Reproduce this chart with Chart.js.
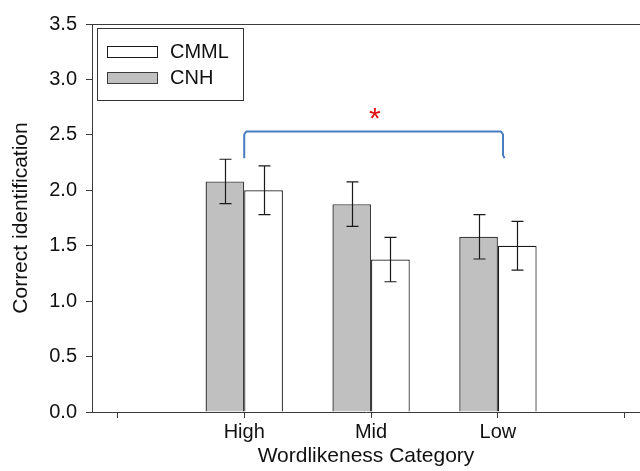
<!DOCTYPE html>
<html>
<head>
<meta charset="utf-8">
<script src="https://cdn.jsdelivr.net/npm/chart.js@4"></script>
<style>
  html, body { margin: 0; padding: 0; background: #ffffff; overflow: hidden; }
  #wrap { width: 640px; height: 471px; }
</style>
</head>
<body>
<div id="wrap"><canvas id="chart" width="640" height="471"></canvas></div>
<script>
// Correct identification by wordlikeness category
const categories = ['High', 'Mid', 'Low'];
const categoryPositions = [1, 2, 3];
const xTickPositions = [0, 1, 2, 3, 4];
const xTickLabels = ['', 'High', 'Mid', 'Low', ''];
const yTickValues = [0, 0.5, 1, 1.5, 2, 2.5, 3, 3.5];

const cnhMeans = [2.08, 1.875, 1.58];
const cnhErrors = [0.2, 0.2, 0.2];
const cmmlMeans = [2.0, 1.375, 1.5];
const cmmlErrors = [0.22, 0.2, 0.22];

// significance bracket between High and Low
const bracketX = [1.0, 3.04];
const bracketTopY = 2.53;
const bracketEndY = 2.29;
const starPosition = [2.03, 2.69];
const starText = '*';

const legendOrder = ['CMML', 'CNH'];

const AXIS = '#3a3a3a';
const FONT = 'Arial, "Liberation Sans", sans-serif';

const toPoints = (means) => means.map((v, i) => ({ x: categoryPositions[i], y: v }));

const errorBars = {
  id: 'errorBars',
  afterDatasetsDraw(chart) {
    const ctx = chart.ctx;
    const y = chart.scales.y;
    ctx.save();
    ctx.strokeStyle = '#1a1a1a';
    ctx.lineWidth = 1.2;
    chart.data.datasets.forEach((ds, di) => {
      const meta = chart.getDatasetMeta(di);
      meta.data.forEach((bar, i) => {
        const m = ds.data[i].y, e = ds.errors[i];
        const x = Math.round(bar.x) + 0.5;
        const yt = y.getPixelForValue(m + e), yb = y.getPixelForValue(m - e);
        ctx.beginPath();
        ctx.moveTo(x, yt); ctx.lineTo(x, yb);
        ctx.moveTo(x - 6, yt); ctx.lineTo(x + 6, yt);
        ctx.moveTo(x - 6, yb); ctx.lineTo(x + 6, yb);
        ctx.stroke();
      });
    });
    ctx.restore();
  }
};

const annotations = {
  id: 'annotations',
  afterDatasetsDraw(chart) {
    const ctx = chart.ctx;
    const xs = chart.scales.x, ys = chart.scales.y;
    const x0 = xs.getPixelForValue(bracketX[0]);
    const x1 = xs.getPixelForValue(bracketX[1]);
    const yt = ys.getPixelForValue(bracketTopY);
    const yb = ys.getPixelForValue(bracketEndY);
    ctx.save();
    ctx.strokeStyle = '#4a7cc1';
    ctx.lineWidth = 2;
    ctx.lineJoin = 'round';
    ctx.beginPath();
    ctx.moveTo(x0, yb);
    ctx.lineTo(x0, yt + 3);
    ctx.lineTo(x0 + 2, yt);
    ctx.lineTo(x1 - 2, yt);
    ctx.lineTo(x1, yt + 3);
    ctx.lineTo(x1, yb - 3);
    ctx.lineTo(x1 + 1.5, yb);
    ctx.stroke();

    ctx.fillStyle = '#e01010';
    ctx.font = '30px ' + FONT;
    ctx.textAlign = 'center';
    ctx.textBaseline = 'alphabetic';
    const sx = xs.getPixelForValue(starPosition[0]);
    const sy = ys.getPixelForValue(starPosition[1]);
    ctx.fillText(starText, sx, sy + 14);
    ctx.restore();
  }
};

const frame = {
  id: 'frame',
  afterDraw(chart) {
    const ctx = chart.ctx;
    const a = chart.chartArea;
    ctx.save();
    ctx.strokeStyle = AXIS;
    ctx.lineWidth = 1;
    ctx.beginPath();
    ctx.moveTo(a.left, Math.round(a.top) + 0.5);
    ctx.lineTo(a.right, Math.round(a.top) + 0.5);
    ctx.stroke();

    // legend box
    const bx = 97.5, by = 28.5, bw = 146, bh = 72;
    ctx.strokeStyle = '#333333';
    ctx.strokeRect(bx, by, bw, bh);
    ctx.font = '20px ' + FONT;
    ctx.textAlign = 'left';
    ctx.textBaseline = 'middle';
    legendOrder.forEach((name, k) => {
      const ds = chart.data.datasets.find(d => d.label === name);
      const sy = 46.5 + k * 26;
      ctx.fillStyle = ds.backgroundColor;
      ctx.fillRect(107.5, sy, 50, 11);
      ctx.strokeStyle = ds.borderColor;
      ctx.strokeRect(107.5, sy, 50, 11);
      ctx.fillStyle = '#111111';
      ctx.fillText(name, 170, sy + 6);
    });
    ctx.restore();
  }
};

new Chart(document.getElementById('chart'), {
  type: 'bar',
  data: {
    datasets: [
      {
        label: 'CNH',
        data: toPoints(cnhMeans),
        errors: cnhErrors,
        backgroundColor: '#c0c0c0',
        borderColor: '#3c3c3c',
        borderWidth: 1.4,
        borderSkipped: 'start'
      },
      {
        label: 'CMML',
        data: toPoints(cmmlMeans),
        errors: cmmlErrors,
        backgroundColor: '#ffffff',
        borderColor: '#1a1a1a',
        borderWidth: 1.2,
        borderSkipped: 'start'
      }
    ]
  },
  options: {
    responsive: false,
    devicePixelRatio: 1,
    animation: false,
    layout: { padding: { left: 0, right: 0, top: 24, bottom: 0 } },
    plugins: { legend: { display: false }, tooltip: { enabled: false } },
    datasets: { bar: { categoryPercentage: 0.61, barPercentage: 1 } },
    scales: {
      x: {
        type: 'linear',
        min: -0.2,
        max: 4.12,
        offset: false,
        afterBuildTicks(scale) { scale.ticks = xTickPositions.map(v => ({ value: v })); },
        afterFit(scale) { scale.height = 59; },
        ticks: {
          autoSkip: false,
          maxRotation: 0,
          padding: 2,
          color: '#111111',
          font: { size: 20, family: FONT },
          callback: (v) => xTickLabels[xTickPositions.indexOf(v)] ?? ''
        },
        grid: { offset: false, drawOnChartArea: false, drawTicks: true, tickLength: 6, color: AXIS },
        border: { display: true, color: AXIS, width: 1 },
        title: {
          display: true,
          text: 'Wordlikeness Category',
          color: '#111111',
          font: { size: 21, family: FONT },
          padding: { top: 0, bottom: 2 }
        }
      },
      y: {
        type: 'linear',
        min: 0,
        max: 3.5,
        afterBuildTicks(scale) { scale.ticks = yTickValues.map(v => ({ value: v })); },
        afterFit(scale) { scale.width = 92; },
        ticks: {
          padding: 9,
          color: '#111111',
          font: { size: 20, family: FONT },
          callback: (v) => Number(v).toFixed(1)
        },
        grid: { drawOnChartArea: false, drawTicks: true, tickLength: 6, color: AXIS },
        border: { display: true, color: AXIS, width: 1 },
        title: {
          display: true,
          text: 'Correct identification',
          color: '#111111',
          font: { size: 21, family: FONT },
          padding: { top: 9, bottom: 0 }
        }
      }
    }
  },
  plugins: [errorBars, annotations, frame]
});
</script>
</body>
</html>
